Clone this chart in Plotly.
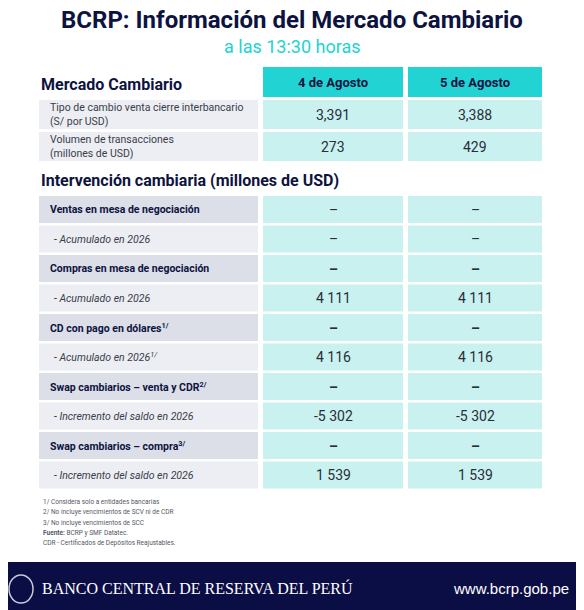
import plotly.graph_objects as go

dates = ["4 de Agosto", "5 de Agosto"]
mercado_labels = ["Tipo de cambio venta cierre interbancario<br>(S/ por USD)", "Volumen de transacciones<br>(millones de USD)"]
mercado_d1 = ["3,391", "273"]
mercado_d2 = ["3,388", "429"]
interv_labels = ["Ventas en mesa de negociación", "- Acumulado en 2026",
                 "Compras en mesa de negociación", "- Acumulado en 2026",
                 "CD con pago en dólares<sup>1/</sup>", "- Acumulado en 2026<sup>1/</sup>",
                 "Swap cambiarios – venta y CDR<sup>2/</sup>", "- Incremento del saldo en 2026",
                 "Swap cambiarios – compra<sup>3/</sup>", "- Incremento del saldo en 2026"]
interv_main = [True, False, True, False, True, False, True, False, True, False]
interv_d1 = ["–", "–", "–", "4 111", "–", "4 116", "–", "-5 302", "–", "1 539"]
interv_d2 = ["–", "–", "–", "4 111", "–", "4 116", "–", "-5 302", "–", "1 539"]
footnotes = ["1/ Considera solo a entidades bancarias", "2/ No incluye vencimientos de SCV ni de CDR",
             "3/ No incluye vencimientos de SCC", "<b>Fuente:</b> BCRP y SMF Datatec.",
             "CDR - Certificados de Depósitos Reajustables."]

NAVY = "#0d1340"; TEAL = "#22d3d3"; LTEAL = "#c9f1ef"
GREY1 = "#dcdfe8"; GREY2 = "#eceef3"
F = "Roboto"
shapes = []; ann = []

def rect(x0, y0, x1, y1, c):
    shapes.append(dict(type="rect", x0=x0, x1=x1, y0=y0, y1=y1, fillcolor=c, line_width=0, layer="below"))

def txt(x, y, t, size, color="#2a2d3a", xa="center", bold=False, fam=F, italic=False):
    if bold: t = "<b>" + t + "</b>"
    if italic: t = "<i>" + t + "</i>"
    ann.append(dict(x=x, y=y, text=t, showarrow=False, xanchor=xa, yanchor="middle",
                    font=dict(size=size, color=color, family=fam), align="left"))

COLS = [(263, 403), (408, 542)]
txt(292, 20, "BCRP: Información del Mercado Cambiario", 24, NAVY, bold=True)
txt(292, 46, "a las 13:30 horas", 18, TEAL)

txt(39, 84, "Mercado Cambiario", 16, NAVY, "left", bold=True)
for (x0, x1), d in zip(COLS, dates):
    rect(x0, 67, x1, 97, TEAL)
    txt((x0 + x1) / 2, 82, d, 13, NAVY, bold=True)

for i, lab in enumerate(mercado_labels):
    y0 = 100 + i * 32; y1 = y0 + 29
    rect(39, y0, 258, y1, GREY2)
    txt(48, (y0 + y1) / 2, lab, 10.5, "#3a3d4a", "left")
    for (x0, x1), v in zip(COLS, [mercado_d1[i], mercado_d2[i]]):
        rect(x0, y0, x1, y1, LTEAL)
        txt((x0 + x1) / 2, (y0 + y1) / 2, v, 14)

txt(39, 180, "Intervención cambiaria (millones de USD)", 16, NAVY, "left", bold=True)
for i, lab in enumerate(interv_labels):
    y0 = 196 + i * 29.5; y1 = y0 + 27
    m = interv_main[i]
    rect(39, y0, 258, y1, GREY1 if m else GREY2)
    if m:
        txt(48, (y0 + y1) / 2, lab, 10.5, NAVY, "left", bold=True)
    else:
        txt(52, (y0 + y1) / 2, lab, 10.5, "#3a3d4a", "left", italic=True)
    for (x0, x1), v in zip(COLS, [interv_d1[i], interv_d2[i]]):
        rect(x0, y0, x1, y1, LTEAL)
        txt((x0 + x1) / 2, (y0 + y1) / 2, v, 14, bold=(v == "–" and i >= 2))

for i, f in enumerate(footnotes):
    txt(41, 502 + i * 10.3, f, 6.5, "#555866", "left")

rect(0, 562, 600, 620, "#0b0d45")
shapes.append(dict(type="circle", x0=9, x1=33, y0=575, y1=603, line=dict(color="#c8cad8", width=1.5)))
txt(40, 588, "BANCO CENTRAL DE RESERVA DEL PERÚ", 16, "white", "left", fam="Liberation Serif")
txt(571, 588, "www.bcrp.gob.pe", 15, "white", "right", fam="Liberation Sans")

fig = go.Figure()
fig.update_layout(width=584, height=610, margin=dict(l=0, r=0, t=0, b=0),
                  paper_bgcolor="white", plot_bgcolor="white", shapes=shapes, annotations=ann,
                  xaxis=dict(range=[8, 592], visible=False, fixedrange=True),
                  yaxis=dict(range=[618, 8], visible=False, fixedrange=True), showlegend=False)
fig.write_html("out.html")
